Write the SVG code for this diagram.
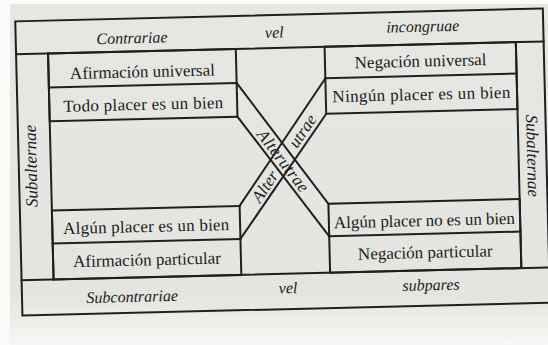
<svg xmlns="http://www.w3.org/2000/svg" width="548" height="345" viewBox="0 0 548 345">
  <defs>
    <linearGradient id="paper" x1="0" y1="0" x2="0" y2="1">
      <stop offset="0" stop-color="#e6e6e2"/>
      <stop offset="0.86" stop-color="#e4e4e0"/>
      <stop offset="1" stop-color="#f7f7f5"/>
    </linearGradient>
    <style>
      .ln { stroke:#1f1f1f; stroke-width:2; fill:none; stroke-linecap:square; }
      .t { font-family:"Liberation Serif","Times New Roman",serif; font-size:17px; fill:#1c1c1c; text-anchor:middle; }
      .i { font-style:italic; font-size:16px; }
      .b { font-style:italic; font-size:17px; }
    </style>
  </defs>
  <rect x="0" y="0" width="548" height="345" fill="#fafaf8"/>
  <rect x="10" y="4" width="538" height="341" fill="url(#paper)"/>
  <g transform="rotate(-1.4 277 163)">
    <g id="frame">
      <rect class="ln" x="18.8" y="15" width="527.7" height="294.3"/>
      <line class="ln" x1="18.8" y1="48" x2="546.5" y2="48"/>
      <line class="ln" x1="18.8" y1="274" x2="546.5" y2="274"/>
      <line class="ln" x1="50.8" y1="48" x2="50.8" y2="274"/>
      <line class="ln" x1="518.7" y1="48" x2="518.7" y2="274"/>
    </g>
    <g id="top-band">
      <text class="t i" x="135" y="39.8">Contrariae</text>
      <text class="t i" x="277.5" y="37.7">vel</text>
      <text class="t i" x="426" y="35.3">incongruae</text>
    </g>
    <g id="bottom-band">
      <text class="t i" x="129" y="298.4">Subcontrariae</text>
      <text class="t i" x="285" y="293.5">vel</text>
      <text class="t i" x="428" y="294">subpares</text>
    </g>
    <g id="subalternae-left">
      <text class="t b" transform="translate(36.6 160) rotate(-90)" x="0" y="0">Subalternae</text>
    </g>
    <g id="subalternae-right">
      <text class="t b" transform="translate(527.2 162) rotate(90)" x="0" y="0">Subalternae</text>
    </g>
    <g id="universal-affirmative">
      <rect class="ln" x="50.8" y="48" width="187.8" height="67.7"/>
      <line class="ln" x1="50.8" y1="82" x2="238.6" y2="82"/>
      <text class="t" x="144.7" y="74">Afirmación universal</text>
      <text class="t" x="144.7" y="106.7" textLength="160" lengthAdjust="spacing">Todo placer es un bien</text>
    </g>
    <g id="universal-negative">
      <rect class="ln" x="327.4" y="48" width="191.3" height="67"/>
      <line class="ln" x1="327.4" y1="79.5" x2="518.7" y2="79.5"/>
      <text class="t" x="423" y="70.2">Negación universal</text>
      <text class="t" x="423" y="103.5" textLength="178" lengthAdjust="spacing">Ningún placer es un bien</text>
    </g>
    <g id="particular-affirmative">
      <rect class="ln" x="50.8" y="205" width="187.8" height="69"/>
      <line class="ln" x1="50.8" y1="238" x2="238.6" y2="238"/>
      <text class="t" x="144.7" y="228.8" textLength="166" lengthAdjust="spacing">Algún placer es un bien</text>
      <text class="t" x="144.7" y="262.1">Afirmación particular</text>
    </g>
    <g id="particular-negative">
      <rect class="ln" x="327.4" y="205" width="191.3" height="69"/>
      <line class="ln" x1="327.4" y1="237.5" x2="518.7" y2="237.5"/>
      <text class="t" x="423" y="229.6" textLength="181" lengthAdjust="spacing">Algún placer no es un bien</text>
      <text class="t" x="423" y="261.6">Negación particular</text>
    </g>
    <g id="connectors">
      <line class="ln" x1="238.6" y1="82" x2="327.4" y2="205"/>
      <line class="ln" x1="238.6" y1="115.7" x2="327.4" y2="237.5"/>
      <line class="ln" x1="238.6" y1="205" x2="327.4" y2="79.5"/>
      <line class="ln" x1="238.6" y1="238" x2="327.4" y2="115"/>
      <text class="t b" transform="translate(283.5 160.7) rotate(54)" x="0" y="0" dy="0.35em" textLength="74" lengthAdjust="spacing">Alterutrae</text>
      <text class="t b" transform="translate(264 186) rotate(-54.4)" x="0" y="0" dy="0.35em">Alter</text>
      <text class="t b" transform="translate(303 131.4) rotate(-54.4)" x="0" y="0" dy="0.35em">utrae</text>
    </g>
  </g>
</svg>
